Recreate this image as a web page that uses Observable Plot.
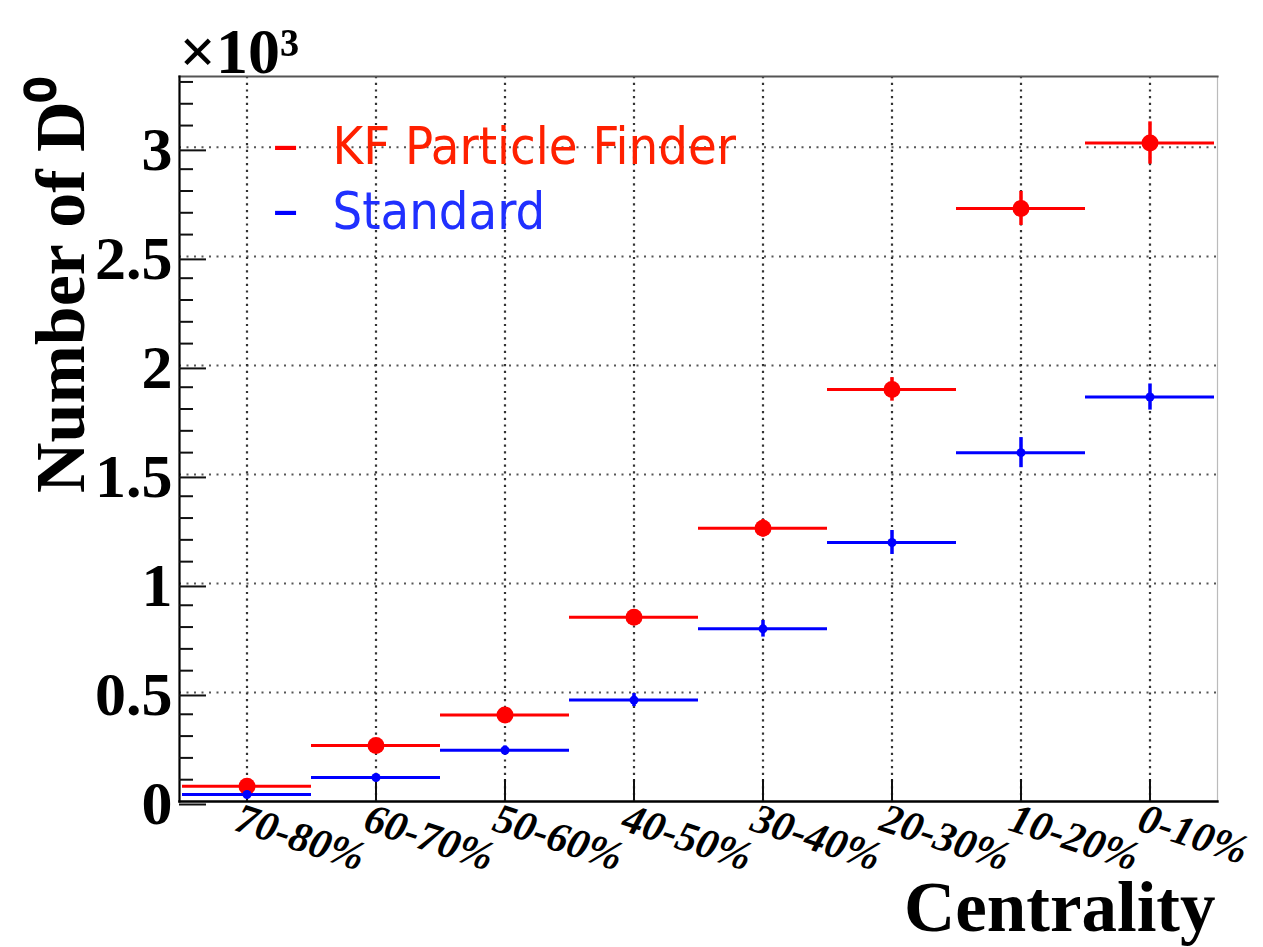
<!DOCTYPE html>
<html>
<head>
<meta charset="utf-8">
<script src="https://cdn.jsdelivr.net/npm/d3@7"></script>
<script src="https://cdn.jsdelivr.net/npm/@observablehq/plot@0.6"></script>
<style>
  html, body { margin: 0; padding: 0; background: #fff; }
  #chart svg { display: block; }
</style>
</head>
<body>
<div id="chart"></div>
<script>
// Centrality classes, most peripheral first (left to right)
const centralities = ["70-80%", "60-70%", "50-60%", "40-50%", "30-40%", "20-30%", "10-20%", "0-10%"];

// Reconstructed D0 yields, in units of 10^3
const kfCounts  = [0.070, 0.257, 0.397, 0.845, 1.253, 1.890, 2.720, 3.020];
const kfErrors  = [0.015, 0.025, 0.030, 0.035, 0.040, 0.054, 0.078, 0.097];
const stdCounts = [0.032, 0.110, 0.235, 0.465, 0.792, 1.188, 1.600, 1.855];
const stdErrors = [0.010, 0.015, 0.020, 0.030, 0.038, 0.055, 0.069, 0.060];

const seriesNames  = ["KF Particle Finder", "Standard"];
const seriesColors = ["#ff0000", "#0000ff"];

// Axis ticks
const yMajorTicks = [0, 0.5, 1, 1.5, 2, 2.5, 3];
const yMinorTicks = [0.1, 0.2, 0.3, 0.4, 0.6, 0.7, 0.8, 0.9, 1.1, 1.2, 1.3, 1.4, 1.6, 1.7, 1.8, 1.9,
                     2.1, 2.2, 2.3, 2.4, 2.6, 2.7, 2.8, 2.9, 3.1, 3.2, 3.3];
const yTop = 3.325;

const rows = [
  ...centralities.map((c, i) => ({series: seriesNames[0], centrality: c, n: kfCounts[i], err: kfErrors[i]})),
  ...centralities.map((c, i) => ({series: seriesNames[1], centrality: c, n: stdCounts[i], err: stdErrors[i]}))
];
const kfRows  = rows.filter(d => d.series === seriesNames[0]);
const stdRows = rows.filter(d => d.series === seriesNames[1]);

const serif = "'Liberation Serif', 'Times New Roman', serif";
const sans  = "'DejaVu Sans Condensed', 'DejaVu Sans', sans-serif";

const chart = Plot.plot({
  width: 1263,
  height: 947,
  marginLeft: 179,
  marginRight: 46,
  marginTop: 76,
  marginBottom: 146,
  style: {fontFamily: serif, background: "#fff", color: "#000"},
  x: {type: "band", domain: centralities, padding: 0, axis: null},
  y: {domain: [0, yTop], axis: null},
  color: {domain: seriesNames, range: seriesColors},
  marks: [
    // dotted grid
    Plot.gridY(yMajorTicks.filter(d => d > 0), {stroke: "#444", strokeOpacity: 0.9, strokeWidth: 2, strokeDasharray: "2,5.5"}),
    Plot.gridX(centralities, {stroke: "#333", strokeOpacity: 1, strokeWidth: 2.2, strokeDasharray: "2.2,4.5"}),

    // frame: heavy left/bottom, lighter top/right
    Plot.frame({anchor: "right", stroke: "#bbb", strokeWidth: 1.2}),
    Plot.frame({anchor: "top", stroke: "#555", strokeWidth: 2.2}),
    Plot.frame({anchor: "left", stroke: "#000", strokeWidth: 2.2}),
    Plot.frame({anchor: "bottom", stroke: "#000", strokeWidth: 2.4}),

    // inward ticks on the y axis
    Plot.axisY(yMinorTicks, {anchor: "left", tickSize: 14, dx: 14, fill: "none", stroke: "#111", strokeWidth: 2, label: null}),
    Plot.axisY(yMajorTicks, {
      anchor: "left", tickSize: 27, dx: 27, tickPadding: 7, stroke: "#111", strokeWidth: 2,
      tickFormat: d => String(d), fontSize: 62, fontWeight: "bold", fontFamily: serif, dy: 3, label: null
    }),
    // inward ticks on the x axis at the class centres
    Plot.axisX(centralities, {anchor: "bottom", tickSize: 22, dy: -22, fill: "none", stroke: "#111", strokeWidth: 2, label: null}),

    // slanted centrality labels
    Plot.text(centralities, {
      x: d => d, frameAnchor: "bottom", rotate: 18, textAnchor: "start", lineAnchor: "top",
      dx: -5, dy: 0, fontSize: 42, fontWeight: "bold", fontStyle: "italic", fontFamily: serif, fill: "#000"
    }),

    // bin-width bars and statistical error bars
    Plot.tickY(rows, {x: "centrality", y: "n", stroke: "series", strokeWidth: 3}),
    Plot.ruleX(rows, {x: "centrality", y1: d => d.n - d.err, y2: d => d.n + d.err, stroke: "series", strokeWidth: 3.5}),
    Plot.dot(kfRows, {x: "centrality", y: "n", r: 8.5, fill: "series", stroke: "none"}),
    Plot.dot(stdRows, {x: "centrality", y: "n", r: 4.5, fill: "series", stroke: "none"}),

    // legend
    Plot.text(["–"], {frameAnchor: "top-left", dx: 93, dy: 87, lineAnchor: "bottom", textAnchor: "start", fontSize: 58, fontFamily: sans, fill: seriesColors[0]}),
    Plot.text(["–"], {frameAnchor: "top-left", dx: 93, dy: 152, lineAnchor: "bottom", textAnchor: "start", fontSize: 58, fontFamily: sans, fill: seriesColors[1]}),
    Plot.text([seriesNames[0]], {frameAnchor: "top-left", dx: 153, dy: 87, lineAnchor: "bottom", textAnchor: "start", fontSize: 52, fontFamily: sans, fill: "#ff2000"}),
    Plot.text([seriesNames[1]], {frameAnchor: "top-left", dx: 153, dy: 152, lineAnchor: "bottom", textAnchor: "start", fontSize: 52, fontFamily: sans, fill: "#2030ff"}),

    // axis titles and exponent
    Plot.text(["Number of D⁰"], {
      frameAnchor: "top-left", rotate: -90, textAnchor: "end", lineAnchor: "bottom",
      dx: -96, dy: 0, fontSize: 70, fontWeight: "bold", fontFamily: serif, fill: "#000"
    }),
    Plot.text(["Centrality"], {
      frameAnchor: "bottom-right", textAnchor: "end", lineAnchor: "bottom",
      dx: -2, dy: 129, fontSize: 71, fontWeight: "bold", fontFamily: serif, fill: "#000"
    }),
    Plot.text(["×10³"], {
      frameAnchor: "top-left", textAnchor: "start", lineAnchor: "bottom",
      dx: 0, dy: -4, fontSize: 64, fontWeight: "bold", fontFamily: serif, fill: "#000"
    })
  ]
});

document.getElementById("chart").appendChild(chart);
</script>
</body>
</html>
